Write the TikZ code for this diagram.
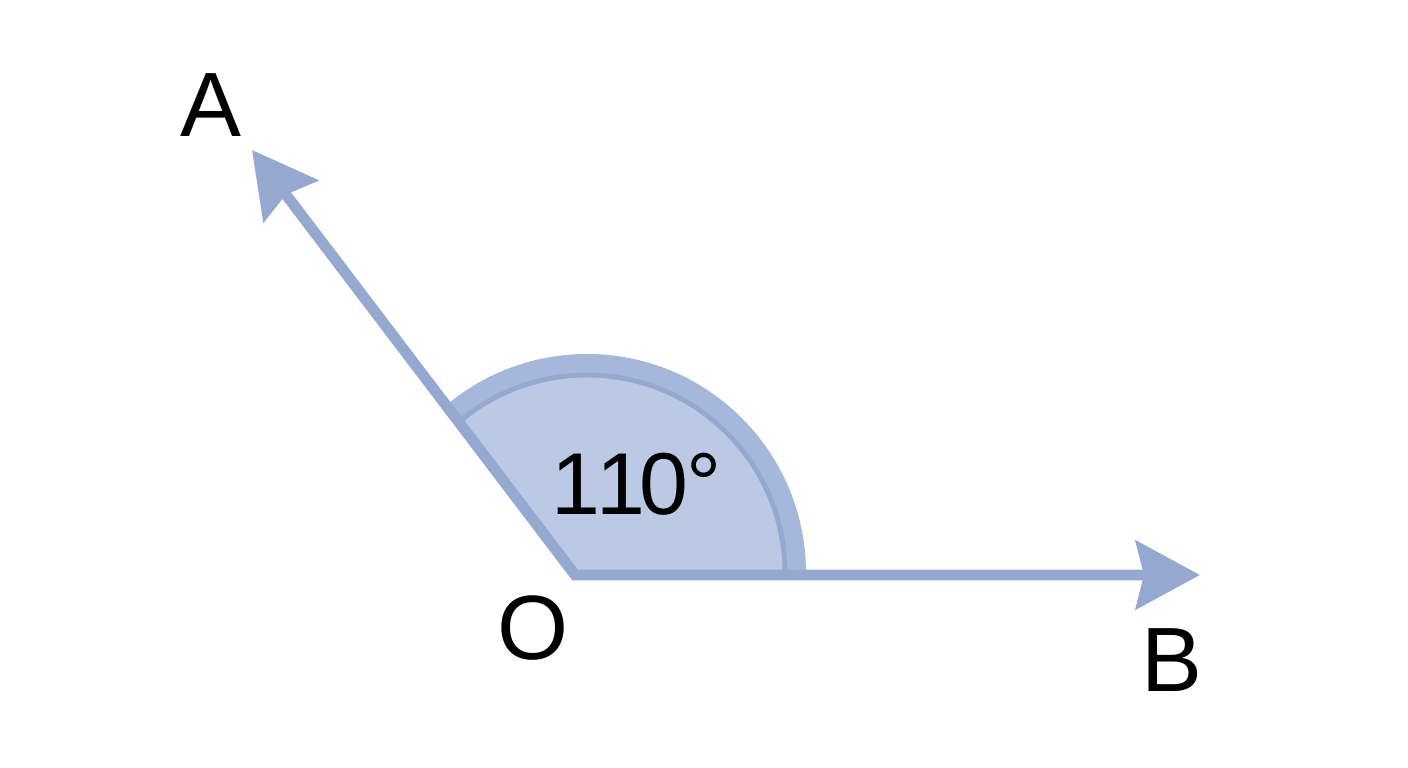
\documentclass[tikz,border=0pt]{standalone}
\usepackage{fontspec}
\setmainfont{Liberation Sans}
\usetikzlibrary{arrows.meta}
\definecolor{raycol}{RGB}{149,168,208}
\definecolor{bandcol}{RGB}{165,183,218}
\definecolor{fillcol}{RGB}{188,201,228}
\tikzset{
  ray/.style      = {draw=raycol, line width=3.1pt, line join=miter, <->,
                     >={Stealth[length=6.4mm,width=6.8mm,inset=0.8mm]}},
  ptlabel/.style  = {inner sep=0pt, font=\fontsize{26}{30}\selectfont},
  anglabel/.style = {inner sep=0pt, font=\fontsize{25}{30}\selectfont}
}

\begin{document}
\begin{tikzpicture}
\useasboundingbox (0,0) rectangle (14.08,7.68);
\coordinate (O) at (5.75,1.93);
\coordinate (Atip) at (2.52,6.18);
\coordinate (Btip) at (12.00,1.93);
\coordinate (C) at (5.87,1.95);
% angle sector
\begin{scope}
  \clip (O) -- (Btip) -- (Atip) -- cycle;
  \fill[bandcol] (C) circle[radius=2.19];
  \fill[fillcol] (C) circle[radius=1.96];
  \draw[raycol, line width=1.4pt] (C) circle[radius=1.98];
\end{scope}
% rays
\draw[ray] (Atip) -- (O) -- (Btip);
\node[ptlabel] (A) at (2.11,6.63) {A};
\node[ptlabel] (Olab) at (5.33,1.40) {O};
\node[ptlabel] (B) at (11.72,1.08) {B};
\node[anglabel] (ang) at (6.37,2.84) {1\kern-0.05em1\kern-0.06em0\kern-0.02em°};
\end{tikzpicture}
\end{document}
